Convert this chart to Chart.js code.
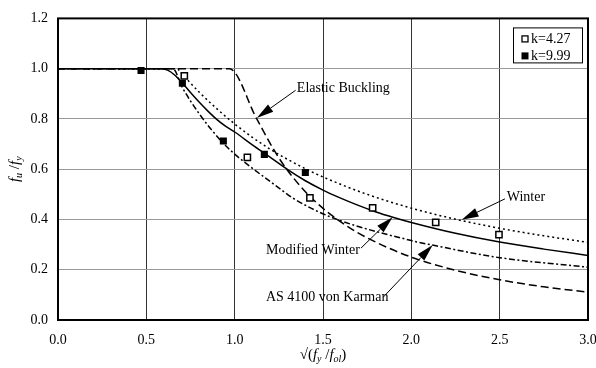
<!DOCTYPE html>
<html><head><meta charset="utf-8">
<script src="https://cdn.jsdelivr.net/npm/chart.js@4/dist/chart.umd.min.js"></script>
<style>html,body{margin:0;padding:0;background:#fff}#wrap{width:596px;height:368px;position:relative}</style>
</head><body><div id="wrap"><canvas id="c" width="596" height="368"></canvas></div>
<script>
// ---- data ----
const xTicks = [0, 0.5, 1.0, 1.5, 2.0, 2.5, 3.0];
const yTicks = [0, 0.2, 0.4, 0.6, 0.8, 1.0, 1.2];

const k427Label = 'k=4.27';
const k427X = [0.715, 1.072, 1.426, 1.781, 2.138, 2.496];
const k427Y = [0.971, 0.647, 0.486, 0.446, 0.388, 0.340];

const k999Label = 'k=9.99';
const k999X = [0.47, 0.704, 0.936, 1.168, 1.40];
const k999Y = [0.993, 0.942, 0.712, 0.659, 0.587];

const winterX = [0, 0.673, 0.7, 0.8, 0.9, 1.0, 1.1, 1.2, 1.3, 1.4, 1.5, 1.75, 2.0, 2.25, 2.5, 2.75, 3.0];
const winterY = [1, 1, 0.98, 0.906, 0.84, 0.78, 0.727, 0.68, 0.639, 0.602, 0.569, 0.50, 0.445, 0.401, 0.365, 0.335, 0.309];

const modWinterX = [0, 0.58, 0.62, 0.66, 0.70, 0.75, 0.80, 0.85, 0.90, 0.95, 1.0, 1.1, 1.2, 1.3, 1.4, 1.5, 1.6, 1.7, 1.8, 1.9, 2.0, 2.25, 2.5, 2.75, 3.0];
const modWinterY = [1, 1, 0.994, 0.975, 0.946, 0.905, 0.866, 0.830, 0.797, 0.770, 0.748, 0.697, 0.648, 0.598, 0.554, 0.517, 0.485, 0.456, 0.430, 0.408, 0.388, 0.345, 0.310, 0.282, 0.257];

const as4100X = [0, 0.65, 0.704, 0.8, 0.92, 1.0, 1.07, 1.238, 1.332, 1.536, 2.0, 2.12, 2.5, 3.0];
const as4100Y = [1, 1, 0.925, 0.82, 0.715, 0.66, 0.62, 0.532, 0.484, 0.412, 0.316, 0.298, 0.248, 0.21];

const elasticX = [0, 0.97, 1.125, 1.25, 1.375, 1.5, 1.625, 1.75, 2.0, 2.25, 2.5, 2.75, 3.0];
const elasticY = [1, 1, 0.80, 0.645, 0.53, 0.444, 0.379, 0.327, 0.25, 0.198, 0.16, 0.132, 0.111];

// annotation labels: text anchor and arrow (data units)
const notes = [
  {text: 'Elastic Buckling', tx: 1.352, ty: 0.922, ax: 1.345, ay: 0.914, px: 1.125, py: 0.804},
  {text: 'Winter', tx: 2.54, ty: 0.49, ax: 2.53, ay: 0.482, px: 2.285, py: 0.399},
  {text: 'Modified Winter', tx: 1.177, ty: 0.278, ax: 1.715, ay: 0.286, px: 1.894, py: 0.409},
  {text: 'AS 4100 von Karman', tx: 1.177, ty: 0.09, ax: 1.841, ay: 0.091, px: 2.121, py: 0.298}
];

const pts = (xs, ys) => xs.map((x, i) => ({x, y: ys[i]}));
const SERIF = '"Liberation Serif", "DejaVu Serif", serif';

function curve(label, xs, ys, dash) {
  return {label, type: 'line', data: pts(xs, ys), borderColor: '#000', borderWidth: 1.5,
    borderDash: dash, pointRadius: 0, fill: false, cubicInterpolationMode: 'monotone', showLine: true};
}

const frame = {
  id: 'frame',
  beforeDatasetsDraw(chart) {
    const a = chart.chartArea, ctx = chart.ctx;
    ctx.save();
    ctx.strokeStyle = '#000'; ctx.lineWidth = 2;
    ctx.strokeRect(a.left, a.top, a.right - a.left, a.bottom - a.top);
    ctx.restore();
  }
};

function drawRuns(ctx, runs, x, y, center) {
  const measure = r => { ctx.font = (r[1] ? 'italic ' : '') + (r[2] ? '10px ' : '15px ') + SERIF; return ctx.measureText(r[0]).width; };
  let total = 0; runs.forEach(r => total += measure(r));
  let cx = center ? x - total / 2 : x;
  runs.forEach(r => {
    const w = measure(r);
    ctx.fillText(r[0], cx, y + (r[2] ? 4 : 0));
    cx += w;
  });
}

const notesPlugin = {
  id: 'notes',
  afterDraw(chart) {
    const ctx = chart.ctx, xs = chart.scales.x, ys = chart.scales.y, a = chart.chartArea;
    ctx.save();
    ctx.fillStyle = '#000'; ctx.strokeStyle = '#000';
    ctx.font = '14px ' + SERIF; ctx.textBaseline = 'middle'; ctx.textAlign = 'left';
    notes.forEach(n => {
      ctx.fillText(n.text, xs.getPixelForValue(n.tx), ys.getPixelForValue(n.ty));
      const x0 = xs.getPixelForValue(n.ax), y0 = ys.getPixelForValue(n.ay);
      const x1 = xs.getPixelForValue(n.px), y1 = ys.getPixelForValue(n.py);
      const ang = Math.atan2(y1 - y0, x1 - x0), L = 17, W = 4.5;
      const bx = x1 - L * Math.cos(ang), by = y1 - L * Math.sin(ang);
      ctx.lineWidth = 1; ctx.setLineDash([]);
      ctx.beginPath(); ctx.moveTo(x0, y0); ctx.lineTo(bx, by); ctx.stroke();
      ctx.beginPath(); ctx.moveTo(x1, y1);
      ctx.lineTo(bx + W * Math.sin(ang), by - W * Math.cos(ang));
      ctx.lineTo(bx - W * Math.sin(ang), by + W * Math.cos(ang));
      ctx.closePath(); ctx.fill();
    });
    // legend box
    const lx = a.right - 75, ly = a.top + 9, lw = 69, lh = 35;
    ctx.fillStyle = '#fff'; ctx.fillRect(lx, ly, lw, lh);
    ctx.lineWidth = 1; ctx.strokeStyle = '#000'; ctx.strokeRect(lx + 0.5, ly + 0.5, lw, lh);
    ctx.fillStyle = '#000';
    ctx.lineWidth = 1.3; ctx.strokeRect(lx + 9, ly + 8.5, 6, 6);
    ctx.fillRect(lx + 8.5, ly + 25, 7, 7);
    ctx.font = '14px ' + SERIF; ctx.textBaseline = 'middle';
    ctx.fillText(k427Label, lx + 18, ly + 11.5);
    ctx.fillText(k999Label, lx + 18, ly + 28.5);
    // x axis title
    drawRuns(ctx, [['\u221A(', false, false], ['f', true, false], ['y', true, true], [' /', false, false], ['f', true, false], ['ol', true, true], [')', false, false]], (a.left + a.right) / 2, 355, true);
    // y axis title (rotated)
    ctx.translate(15, (a.top + a.bottom) / 2);
    ctx.rotate(-Math.PI / 2);
    drawRuns(ctx, [['f', true, false], ['u', true, true], [' /', false, false], ['f', true, false], ['y', true, true]], 0, 0, true);
    ctx.restore();
  }
};

new Chart(document.getElementById('c'), {
  type: 'scatter',
  data: {
    datasets: [
      {label: k427Label, data: pts(k427X, k427Y), pointStyle: 'rect', pointRadius: 4.4, pointBorderWidth: 1.5,
        pointBackgroundColor: '#fff', pointBorderColor: '#000', showLine: false},
      {label: k999Label, data: pts(k999X, k999Y), pointStyle: 'rect', pointRadius: 5, pointBorderWidth: 0,
        pointBackgroundColor: '#000', pointBorderColor: '#000', showLine: false},
      curve('Modified Winter', modWinterX, modWinterY, []),
      curve('Winter', winterX, winterY, [2, 3]),
      curve('AS 4100 von Karman', as4100X, as4100Y, [6, 2.5, 2, 2.5]),
      curve('Elastic Buckling', elasticX, elasticY, [8, 4])
    ]
  },
  options: {
    responsive: false, animation: false, devicePixelRatio: 1,
    layout: {padding: {top: 14, right: 8, left: 0, bottom: 0}},
    plugins: {legend: {display: false}, tooltip: {enabled: false}},
    scales: {
      x: {
        type: 'linear', min: 0, max: 3,
        afterBuildTicks: s => { s.ticks = xTicks.map(v => ({value: v})); },
        afterFit: s => { s.height = 48; s.paddingLeft = 0; s.paddingRight = 0; },
        ticks: {color: '#000', font: {family: SERIF, size: 14}, padding: 12, maxRotation: 0,
          callback: v => Number(v).toFixed(1)},
        grid: {color: '#333', lineWidth: 1, drawTicks: false},
        border: {display: false}
      },
      y: {
        type: 'linear', min: 0, max: 1.2,
        afterBuildTicks: s => { s.ticks = yTicks.map(v => ({value: v})); },
        afterFit: s => { s.width = 58; },
        ticks: {color: '#000', font: {family: SERIF, size: 14}, padding: 10,
          callback: v => Number(v).toFixed(1)},
        grid: {color: '#999', lineWidth: 1, drawTicks: false},
        border: {display: false}
      }
    }
  },
  plugins: [frame, notesPlugin]
});
</script>
</body></html>
